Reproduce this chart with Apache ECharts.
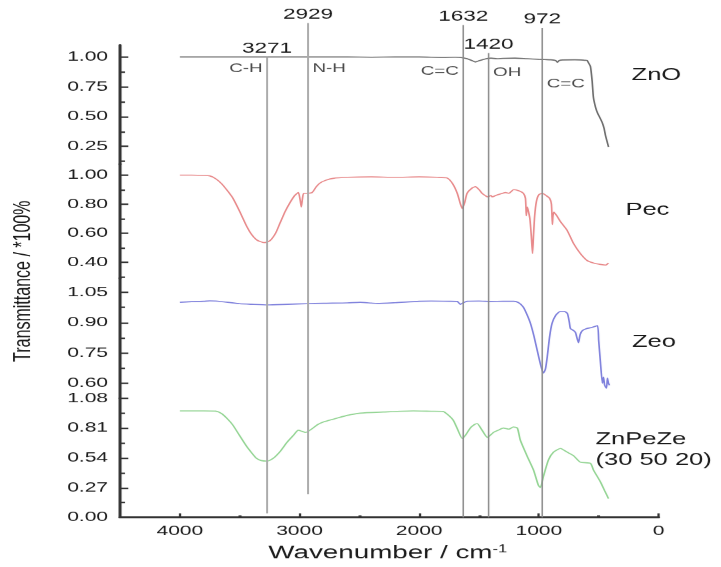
<!DOCTYPE html>
<html><head><meta charset="utf-8">
<script src="https://cdn.jsdelivr.net/npm/echarts@6/dist/echarts.min.js"></script>
<style>
html,body{margin:0;padding:0;background:#fff;overflow:hidden}
#wrap{width:721px;height:567px;overflow:hidden}
#c{width:481px;height:567px;transform:scaleX(1.499);transform-origin:0 0}
</style></head>
<body><div id="wrap"><div id="c"></div></div>
<script>
// ---------------- DATA ----------------
const xTicks = [4000, 3000, 2000, 1000, 0];
const xMinorTicks = [3500, 2500, 1500, 500];

const seriesNames = ['ZnO', 'Pec', 'Zeo', 'ZnPeZe'];

const znoWave = [4000,3800,3600,3400,3200,3000,2800,2600,2400,2200,2000,1800,1700,1650,1600,1560,1530,1500,1470,1440,1400,1350,1300,1200,1100,1000,950,900,860,845,830,800,700,650,620,597,585,569,555,544,527,510,490,469,455,444,430,418];
const znoT    = [1.0,1.0,1.0,1.0,1.0,1.0,1.0,1.0,0.998,1.0,1.0,0.995,0.998,0.995,0.985,0.97,0.958,0.968,0.977,0.985,0.99,0.985,0.988,0.99,0.985,0.98,0.978,0.976,0.97,0.955,0.97,0.975,0.976,0.975,0.972,0.97,0.95,0.92,0.80,0.66,0.58,0.53,0.49,0.445,0.40,0.345,0.29,0.245];

const pecWave = [4000,3900,3800,3750,3700,3650,3600,3556,3500,3440,3400,3360,3320,3290,3245,3200,3163,3120,3080,3040,3010,2995,2985,2975,2965,2930,2895,2860,2830,2780,2720,2600,2400,2200,2000,1850,1766,1720,1682,1655,1640,1620,1600,1560,1530,1500,1475,1450,1430,1400,1390,1360,1322,1280,1250,1210,1160,1130,1112,1105,1098,1090,1075,1063,1053,1045,1035,1020,1000,970,940,910,895,887,882,875,850,820,764,711,653,594,544,485,444,418];
const pecT    = [1.0,1.0,0.998,0.995,0.975,0.94,0.89,0.84,0.75,0.645,0.59,0.555,0.54,0.535,0.55,0.60,0.67,0.75,0.81,0.86,0.88,0.83,0.78,0.84,0.875,0.875,0.88,0.92,0.945,0.965,0.978,0.985,0.988,0.985,0.988,0.985,0.98,0.94,0.875,0.80,0.77,0.81,0.875,0.91,0.92,0.90,0.875,0.86,0.85,0.86,0.85,0.86,0.87,0.88,0.875,0.90,0.89,0.875,0.84,0.72,0.78,0.76,0.70,0.58,0.46,0.58,0.72,0.82,0.865,0.875,0.86,0.84,0.80,0.66,0.72,0.745,0.72,0.68,0.62,0.53,0.46,0.41,0.395,0.385,0.38,0.395];

const zeoWave = [4000,3900,3800,3750,3700,3600,3500,3400,3270,3100,2940,2800,2600,2494,2400,2350,2200,2000,1900,1750,1682,1657,1640,1600,1500,1400,1300,1210,1170,1130,1100,1070,1040,1013,985,962,945,930,910,890,860,820,790,762,745,736,710,694,680,669,655,636,600,560,511,500,485,469,460,450,435,427,418,410];
const zeoT    = [1.0,1.003,1.005,1.007,1.006,1.0,0.993,0.99,0.987,0.99,0.993,0.995,0.997,1.0,0.996,0.994,0.998,1.005,1.006,1.005,1.004,0.99,0.995,1.005,1.006,1.004,1.005,1.005,0.998,0.976,0.94,0.895,0.83,0.76,0.69,0.65,0.67,0.73,0.83,0.895,0.935,0.955,0.955,0.945,0.90,0.87,0.86,0.85,0.82,0.80,0.84,0.86,0.87,0.875,0.885,0.81,0.70,0.60,0.63,0.59,0.575,0.625,0.60,0.59];

const zpzWave = [4000,3900,3800,3700,3650,3600,3556,3500,3440,3400,3360,3320,3270,3220,3160,3105,3050,3010,2980,2950,2900,2850,2800,2700,2600,2494,2300,2050,1900,1800,1760,1715,1680,1640,1610,1573,1540,1515,1480,1430,1400,1380,1340,1297,1250,1213,1180,1155,1100,1045,1004,987,962,920,879,820,762,711,653,569,544,485,450,418];
const zpzT    = [0.965,0.965,0.965,0.963,0.94,0.89,0.835,0.74,0.64,0.585,0.535,0.515,0.51,0.535,0.60,0.68,0.745,0.79,0.78,0.77,0.80,0.84,0.865,0.895,0.925,0.945,0.955,0.965,0.962,0.96,0.93,0.88,0.80,0.715,0.75,0.81,0.84,0.85,0.80,0.725,0.75,0.77,0.79,0.81,0.80,0.82,0.81,0.70,0.56,0.43,0.29,0.27,0.37,0.52,0.59,0.625,0.59,0.56,0.50,0.49,0.43,0.32,0.24,0.17];

// y-axis tick labels per panel
const yTicks = [[1.00, 0.75, 0.50, 0.25], [1.00, 0.80, 0.60, 0.40], [1.05, 0.90, 0.75, 0.60], [1.08, 0.81, 0.54, 0.27, 0.00]];
const yMinorTicks = [[0.875, 0.625, 0.375, 0.125], [0.9, 0.7, 0.5, 0.3], [0.975, 0.825, 0.675], [0.945, 0.675, 0.405, 0.135]];

// marked peaks and their assignments
const peakWave = [3271, 2929, 1632, 1420, 972];
const peakGroup = ['C-H', 'N-H', 'C=C', 'OH', 'C=C'];

// ---------------- LAYOUT / STYLE ----------------
const FONT = '"Liberation Sans", Arial, sans-serif';
const TXT = '#1a1a1a';
const AX = '#333';
const panels = [ // pixel layout of the four stacked panels, with their value ranges
  {top: 45,  height: 119, min: 0.1,   max: 1.1},
  {top: 164, height: 114, min: 0.29,  max: 1.076},
  {top: 278, height: 120, min: 0.5255,max: 1.119},
  {top: 398, height: 119, min: 0,     max: 1.08}
];
const spectraColors = ['#6a6a6a', '#e8898a', '#7d7fdc', '#92d492'];
const peakLineTop = [57, 23, 25, 53, 28];     // overlay pixel y where each guide line starts
const peakLineBottom = [513, 494, 517, 517, 517];
const peakLineColor = ['#ababab', '#ababab', '#8a8a8a', '#8a8a8a', '#8a8a8a'];
const peakLineWidth = [1.3, 1.3, 1.0, 1.0, 1.0];
const groupY = [68.5, 68.5, 71, 72.5, 84];
const groupSide = ['left', 'right', 'left', 'right', 'right'];
const GL = 80, GR = 42;
const gridOf = p => ({left: GL, right: GR, top: p.top, height: p.height, containLabel: false, outerBoundsMode: 'none'});

// grids 0-3: panels, 4: overlay for guide lines, 5-8: twins of panels for minor ticks
const grids = panels.map(gridOf);
grids.push({left: GL, right: GR, top: 0, height: 517, containLabel: false, outerBoundsMode: 'none'});
panels.forEach(p => grids.push(gridOf(p)));

const intLabel = v => String(v);
const xAxes = panels.map((p, i) => ({
  gridIndex: i, type: 'value', min: 0, max: 4500, inverse: true, show: i === 3, position: 'bottom',
  axisLine: {show: true, onZero: false, lineStyle: {color: AX, width: 2}},
  axisTick: {show: true, inside: true, length: 4, customValues: xTicks, lineStyle: {color: AX, width: 1.5}},
  axisLabel: {show: true, customValues: xTicks, formatter: intLabel, fontFamily: FONT, fontSize: 14, color: TXT, margin: 7},
  splitLine: {show: false}
}));
xAxes.push({gridIndex: 4, type: 'value', min: 0, max: 4500, inverse: true, show: false});
panels.forEach((p, i) => xAxes.push({
  gridIndex: 5 + i, type: 'value', min: 0, max: 4500, inverse: true, show: i === 3, position: 'bottom',
  axisLine: {show: false, onZero: false}, axisTick: {show: true, inside: true, length: 2, customValues: xMinorTicks, lineStyle: {color: AX, width: 2}},
  axisLabel: {show: false}, splitLine: {show: false}
}));

const yAxes = panels.map((p, i) => ({
  gridIndex: i, type: 'value', min: p.min, max: p.max, position: 'left',
  axisLine: {show: true, onZero: false, lineStyle: {color: AX, width: 2}},
  axisTick: {show: true, inside: true, length: 5.5, customValues: yTicks[i], lineStyle: {color: AX, width: 1.5}},
  axisLabel: {show: true, customValues: yTicks[i], formatter: v => v.toFixed(2), fontFamily: FONT, fontSize: 14, color: TXT, margin: 8},
  splitLine: {show: false}
}));
yAxes.push({gridIndex: 4, type: 'value', min: 0, max: 517, inverse: true, show: false});
panels.forEach((p, i) => yAxes.push({
  gridIndex: 5 + i, type: 'value', min: p.min, max: p.max, position: 'left',
  axisLine: {show: false, onZero: false}, axisTick: {show: true, inside: true, length: 3.3, customValues: yMinorTicks[i], lineStyle: {color: AX, width: 1.5}},
  axisLabel: {show: false}, splitLine: {show: false}
}));

const spectra = [[znoWave, znoT], [pecWave, pecT], [zeoWave, zeoT], [zpzWave, zpzT]];
const series = [];
spectra.forEach(([w, t], i) => {
  series.push({
    name: seriesNames[i], type: 'line', xAxisIndex: i, yAxisIndex: i,
    data: w.map((x, k) => [x, t[k]]), showSymbol: false, smooth: 0.2, silent: true,
    lineStyle: {color: spectraColors[i], width: 1.1}, clip: false
  });
});
peakWave.forEach((w, i) => {
  series.push({
    type: 'line', xAxisIndex: 4, yAxisIndex: 4, silent: true, showSymbol: true, symbol: 'circle', symbolSize: 0, clip: false,
    lineStyle: {color: peakLineColor[i], width: peakLineWidth[i]},
    itemStyle: {color: peakLineColor[i]},
    data: [
      {value: [w, peakLineTop[i]], label: {show: true, position: 'top', distance: 1, formatter: String(w), fontFamily: FONT, fontSize: 15, color: TXT}},
      {value: [w, peakLineBottom[i]], label: {show: false}}
    ]
  });
});
series.push({
  type: 'scatter', xAxisIndex: 4, yAxisIndex: 4, silent: true, symbolSize: 0, clip: false,
  data: peakWave.map((w, i) => ({value: [w, groupY[i]], label: {show: true, position: groupSide[i], distance: 3, formatter: peakGroup[i], fontFamily: FONT, fontSize: 12.5, color: TXT}}))
});

const nameText = (text, x, y, align) => ({type: 'text', x, y, silent: true,
  style: {text, fontFamily: FONT, fontSize: 17, fill: TXT, align: align || 'center', verticalAlign: 'middle'}});

const option = {
  animation: false,
  backgroundColor: '#fff',
  grid: grids, xAxis: xAxes, yAxis: yAxes, series,
  graphic: [
    nameText(seriesNames[0], 437.6, 75),
    nameText(seriesNames[1], 431.6, 210),
    nameText(seriesNames[2], 436, 342),
    nameText(seriesNames[3], 397, 439, 'left'),
    nameText('(30 50 20)', 397, 460, 'left'),
    {type: 'text', x: 15.3, y: 281, rotation: Math.PI / 2, silent: true,
      style: {text: 'Transmittance / *100%', fontFamily: FONT, fontSize: 16, fill: TXT, align: 'center', verticalAlign: 'middle'}},
    {type: 'text', x: 258.5, y: 553, silent: true,
      style: {text: 'Wavenumber / cm{sup|-1}', fontFamily: FONT, fontSize: 18.5, fill: TXT, align: 'center', verticalAlign: 'middle',
        rich: {sup: {fontFamily: FONT, fontSize: 11, fill: TXT, verticalAlign: 'top'}}}}
  ]
};
const chart = echarts.init(document.getElementById('c'), null, {renderer: 'canvas', devicePixelRatio: 1.5});
chart.setOption(option);
</script>
</body></html>
